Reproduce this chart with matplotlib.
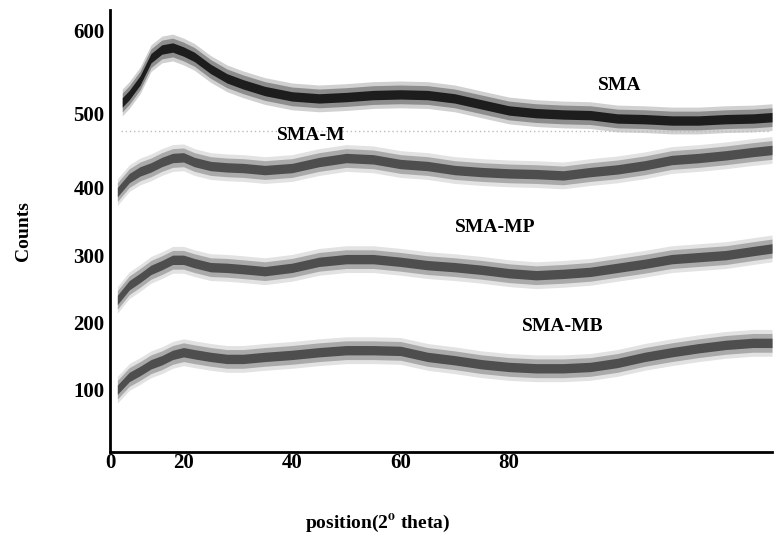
import matplotlib.pyplot as plt
import numpy as np

# 2-theta positions (degrees)
x_sma = [8.7, 10, 12, 14, 16, 18, 20, 22, 25, 28, 31, 35, 40, 45, 50, 55, 60,
         65, 70, 75, 80, 85, 90, 95, 100, 105, 110, 115, 120, 125, 128.5]
x_rest = [7.8, 10, 12, 14, 16, 18, 20, 22, 25, 28, 31, 35, 40, 45, 50, 55, 60,
          65, 70, 75, 80, 85, 90, 95, 100, 105, 110, 115, 120, 125, 128.5]

# smoothed centre of each noisy trace (counts, offset as plotted)
sma = [528, 539, 561, 594, 607, 610, 604, 596, 578, 564, 555, 545, 537, 534, 536, 539,
       540, 539, 534, 525, 516, 512, 510, 509, 504, 503, 501, 501, 503, 504, 506]
sma_m = [394, 415, 425, 431, 439, 445, 446, 439, 433, 431, 430, 427, 430, 439, 445, 443,
         436, 433, 427, 424, 422, 421, 419, 424, 428, 434, 442, 445, 449, 454, 457]
sma_mp = [233, 255, 266, 278, 285, 293, 293, 288, 282, 281, 279, 276, 281, 290, 294, 294,
          290, 285, 282, 278, 273, 270, 272, 275, 281, 287, 294, 297, 300, 306, 310]
sma_mb = [99, 118, 127, 137, 143, 151, 155, 152, 148, 145, 145, 148, 151, 155, 158, 158,
          157, 148, 143, 137, 133, 131, 131, 133, 139, 148, 155, 161, 166, 169, 169]

# approximate noise spread of the traces (counts)
core_spread = 7
spike_spread = 20

names = ['SMA', 'SMA-M', 'SMA-MP', 'SMA-MB']
label_x = [100.5, 43.5, 77.5, 90.0]
label_y = [554, 479, 341, 193]

ytick_pos = [100, 200, 300, 401, 512, 636]
ytick_labels = ['100', '200', '300', '400', '500', '600']
xtick_pos = [6.45, 20, 40, 60, 80]
xtick_labels = ['0', '20', '40', '60', '80']

plt.rcParams['font.family'] = ['Liberation Serif', 'DejaVu Serif']
plt.rcParams['font.weight'] = 'bold'
plt.rcParams['mathtext.fontset'] = 'stix'

fig = plt.figure(figsize=(7.77, 5.41), dpi=100)
ax = fig.add_axes([0.1416, 0.1645, 0.852, 0.817])

# faint dotted guide under the top trace
ax.plot([8.5, 128], [485, 485], color='#bbbbbb', lw=1, ls=(0, (1, 2)))

series = [(x_sma, sma, '#111111', '#666666'),
          (x_rest, sma_m, '#444444', '#a0a0a0'),
          (x_rest, sma_mp, '#444444', '#a0a0a0'),
          (x_rest, sma_mb, '#444444', '#a0a0a0')]

for xs, ys, dark, light in series:
    xs = np.array(xs)
    ys = np.array(ys)
    ax.fill_between(xs, ys - spike_spread, ys + spike_spread, color=light, alpha=0.3, lw=0)
    ax.fill_between(xs, ys - 2 * core_spread, ys + 2 * core_spread, color=dark, alpha=0.35, lw=0)
    ax.fill_between(xs, ys - core_spread, ys + core_spread, color=dark, alpha=0.9, lw=0)

for name, lx, ly in zip(names, label_x, label_y):
    ax.text(lx, ly, name, fontsize=14, fontweight='bold', ha='center', va='center')

ax.set_xlim(6.45, 128.5)
ax.set_ylim(6, 666)
ax.set_xticks(xtick_pos)
ax.set_xticklabels(xtick_labels)
ax.set_yticks(ytick_pos)
ax.set_yticklabels(ytick_labels)
ax.tick_params(length=0, labelsize=15, pad=4)
ax.tick_params(axis='x', pad=1)

for side in ['top', 'right']:
    ax.spines[side].set_visible(False)
ax.spines['left'].set_linewidth(2)
ax.spines['bottom'].set_linewidth(2)

fig.text(378 / 777, 1 - 523 / 541, 'position(2$^{\\mathbf{o}}$ theta)',
         fontsize=14, fontweight='bold', ha='center', va='center')
ax.set_ylabel('Counts', fontsize=14, fontweight='bold', labelpad=30)

fig.savefig('out.png', dpi=100)
